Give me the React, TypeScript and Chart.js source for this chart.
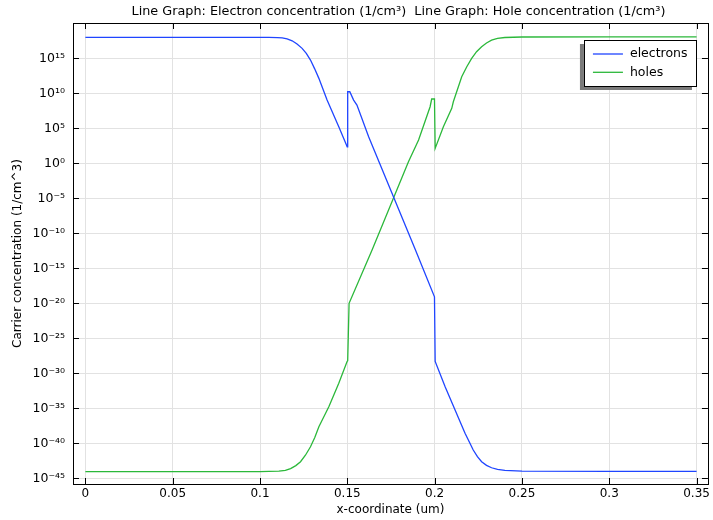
import React, { useEffect, useRef } from 'react';
import { Chart, registerables } from 'chart.js';

Chart.register(...registerables);

// x-coordinate (um) and log10 of concentration (1/cm^3)
const electronX = [0, 0.05, 0.1, 0.105, 0.11, 0.1127, 0.1155, 0.1184, 0.1212, 0.1241, 0.1265, 0.1289, 0.1313, 0.1337,
  0.1384, 0.1451, 0.1495, 0.1499,
  0.1502, 0.1514, 0.1536, 0.1555, 0.1622, 0.1889, 0.1999, 0.2003, 0.206, 0.2117, 0.2174, 0.2221, 0.2245, 0.2269,
  0.2297, 0.2326, 0.236, 0.2402, 0.25, 0.3, 0.35];
const electronLog10 = [18, 18, 18, 17.99, 17.97, 17.93, 17.77, 17.51, 17.05, 16.43, 15.7, 14.76, 13.5, 12.14,
  9.04, 5.23, 2.61, 2.35,
  10.23, 10.23, 9.04, 8.33, 3.8, -12.3, -19.06, -28.3, -31.9, -35.24, -38.57, -40.96, -41.9, -42.63,
  -43.15, -43.49, -43.72, -43.85, -43.98, -44, -44];

const holeX = [0, 0.05, 0.1, 0.105, 0.1108, 0.1145, 0.1175, 0.1205, 0.1232, 0.126, 0.1289, 0.1313, 0.1337, 0.1394,
  0.1451, 0.1498, 0.1502, 0.151,
  0.1641, 0.185, 0.1908, 0.1974, 0.1983, 0.1999, 0.2003, 0.205, 0.2098, 0.2107, 0.2155, 0.2184, 0.2212, 0.224,
  0.2269, 0.2297, 0.2326, 0.236, 0.2402, 0.25, 0.3, 0.35];
const holeLog10 = [-44.05, -44.05, -44.04, -44.02, -43.98, -43.86, -43.6, -43.18, -42.63, -41.7, -40.49, -39.2, -37.63, -34.77,
  -31.43, -28.34, -28.2, -20.0,
  -12.4, 0.23, 3.33, 8.09, 9.19, 9.19, 2.14, 5.23, 7.86, 8.8, 12.37, 13.8, 15, 15.95,
  16.66, 17.2, 17.61, 17.85, 17.98, 18.05, 18.06, 18.06];

const seriesLabels = ['electrons', 'holes'];
const seriesColors = ['#1f45ff', '#2bb83a'];
const xTicks = [0, 0.05, 0.1, 0.15, 0.2, 0.25, 0.3, 0.35];
const yTickExponents = [-45, -40, -35, -30, -25, -20, -15, -10, -5, 0, 5, 10, 15];
const titleText = 'Line Graph: Electron concentration (1/cm³)  Line Graph: Hole concentration (1/cm³)';
const xTitle = 'x-coordinate (um)';
const yTitle = 'Carrier concentration (1/cm^3)';

const FONT = 'DejaVu Sans';
const SUP: Record<string, string> = {
  '0': '⁰', '1': '¹', '2': '²', '3': '³', '4': '⁴', '5': '⁵', '6': '⁶', '7': '⁷', '8': '⁸', '9': '⁹', '-': '⁻',
};
const sup = (n: number) => String(n).split('').map((c) => SUP[c] || c).join('');

const framePlugin = {
  id: 'frameTicks',
  afterDatasetsDraw(chart: any) {
    const { ctx, chartArea: a, scales } = chart;
    ctx.save();
    ctx.strokeStyle = '#000';
    ctx.lineWidth = 1;
    const L = 6;
    ctx.beginPath();
    for (const v of xTicks) {
      const px = Math.round(scales.x.getPixelForValue(v)) + 0.5;
      ctx.moveTo(px, a.bottom); ctx.lineTo(px, a.bottom - L);
      ctx.moveTo(px, a.top); ctx.lineTo(px, a.top + L);
    }
    for (const e of yTickExponents) {
      const py = Math.round(scales.y.getPixelForValue(Math.pow(10, e))) + 0.5;
      ctx.moveTo(a.left, py); ctx.lineTo(a.left + L, py);
      ctx.moveTo(a.right, py); ctx.lineTo(a.right - L, py);
    }
    ctx.stroke();
    ctx.strokeRect(Math.round(a.left) + 0.5, Math.round(a.top) + 0.5, Math.round(a.right - a.left), Math.round(a.bottom - a.top));
    ctx.restore();
  },
  afterDraw(chart: any) {
    const { ctx, chartArea: a } = chart;
    ctx.save();
    // title
    ctx.fillStyle = '#000';
    ctx.font = `12.8px "${FONT}"`;
    ctx.textAlign = 'center';
    ctx.textBaseline = 'middle';
    ctx.fillText(titleText, (a.left + a.right) / 2 + 8, 12);
    // legend
    const bw = 112, bh = 46;
    const bx = a.right - 12 - bw, by = a.top + 17;
    ctx.fillStyle = '#7a7a7a';
    ctx.fillRect(bx - 4, by + 4, bw, bh);
    ctx.fillStyle = '#fff';
    ctx.fillRect(bx, by, bw, bh);
    ctx.strokeStyle = '#000';
    ctx.lineWidth = 1;
    ctx.strokeRect(Math.round(bx) + 0.5, Math.round(by) + 0.5, bw, bh);
    ctx.textAlign = 'left';
    ctx.font = `12.5px "${FONT}"`;
    chart.data.datasets.forEach((ds: any, i: number) => {
      const y = by + 14 + i * 18.3;
      ctx.strokeStyle = ds.borderColor;
      ctx.lineWidth = 1.3;
      ctx.beginPath();
      ctx.moveTo(bx + 9, y); ctx.lineTo(bx + 39, y);
      ctx.stroke();
      ctx.fillStyle = '#000';
      ctx.fillText(ds.label, bx + 46, y);
    });
    ctx.restore();
  },
};

export default function App() {
  const ref = useRef<HTMLCanvasElement>(null);
  useEffect(() => {
    if (!ref.current) return;
    const font = { family: FONT, size: 12 };
    const chart = new Chart(ref.current, {
      type: 'line',
      data: {
        datasets: [
          {
            label: seriesLabels[0],
            data: electronX.map((x, i) => ({ x, y: Math.pow(10, electronLog10[i]) })),
            borderColor: seriesColors[0],
            borderWidth: 1.3,
            pointRadius: 0,
            tension: 0,
            fill: false,
          },
          {
            label: seriesLabels[1],
            data: holeX.map((x, i) => ({ x, y: Math.pow(10, holeLog10[i]) })),
            borderColor: seriesColors[1],
            borderWidth: 1.3,
            pointRadius: 0,
            tension: 0,
            fill: false,
          },
        ],
      },
      options: {
        animation: false,
        responsive: true,
        maintainAspectRatio: false,
        layout: { padding: { left: 0, right: 3, top: 23, bottom: 0 } },
        plugins: {
          legend: { display: false },
          tooltip: { enabled: false },
          title: { display: false },
        },
        scales: {
          x: {
            type: 'linear',
            min: -0.0071,
            max: 0.3565,
            afterBuildTicks: (s: any) => { s.ticks = xTicks.map((v) => ({ value: v })); },
            afterFit: (s: any) => { s.height = 36; },
            grid: { color: '#e2e2e2', drawTicks: false },
            border: { color: '#000', width: 1 },
            ticks: {
              callback: (v: any) => String(v),
              padding: 3,
              color: '#000',
              font,
              maxRotation: 0,
              autoSkip: false,
            },
            title: { display: true, text: xTitle, color: '#000', font, padding: { top: 0, bottom: 2.8 } },
          },
          y: {
            type: 'logarithmic',
            min: Math.pow(10, -45.81),
            max: Math.pow(10, 20.05),
            afterBuildTicks: (s: any) => { s.ticks = yTickExponents.map((e) => ({ value: Math.pow(10, e) })); },
            afterFit: (s: any) => { s.width = 73; },
            grid: { color: '#e2e2e2', drawTicks: false },
            border: { color: '#000', width: 1 },
            ticks: {
              callback: (v: any) => '10' + sup(Math.round(Math.log10(v))),
              padding: 8,
              color: '#000',
              font: { family: FONT, size: 12.5 },
              autoSkip: false,
            },
            title: { display: true, text: yTitle, color: '#000', font, padding: { top: 10.8, bottom: 0 } },
          },
        },
      },
      plugins: [framePlugin],
    } as any);
    return () => chart.destroy();
  }, []);
  return (
    <div style={{ position: 'fixed', left: 0, top: 0, width: 713, height: 520, background: '#fff' }}>
      <canvas ref={ref} />
    </div>
  );
}
